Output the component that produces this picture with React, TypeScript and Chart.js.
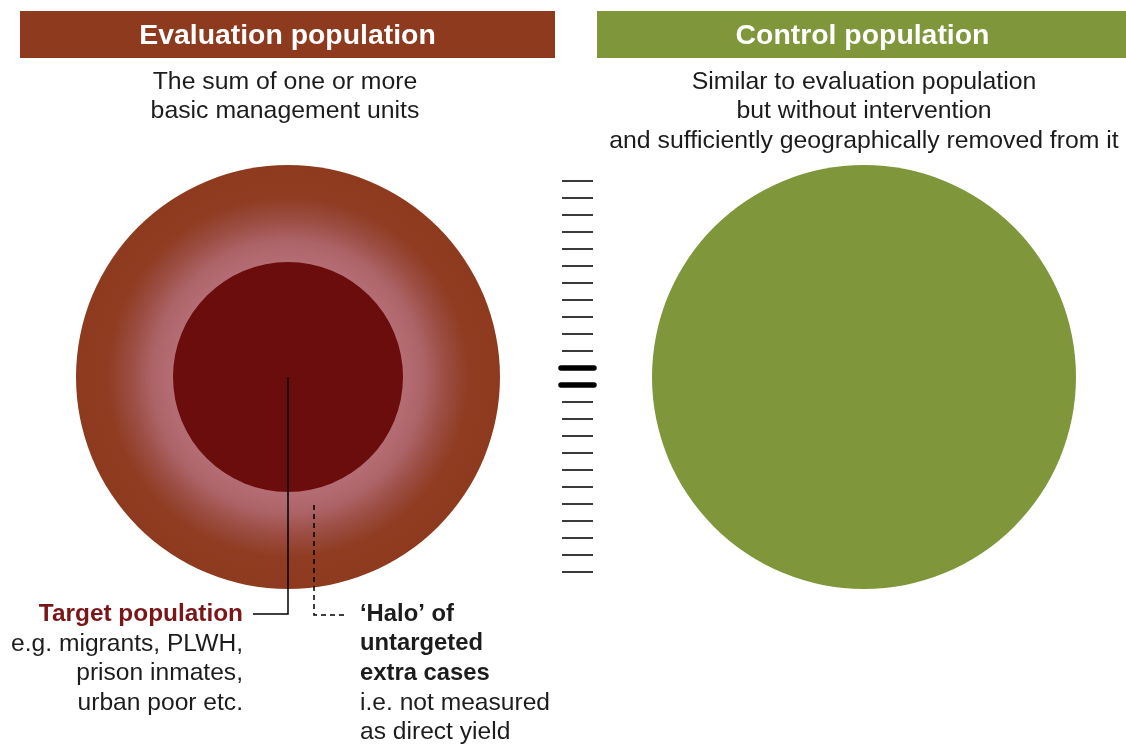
import React, { useEffect, useRef } from "react";
import { Chart, registerables } from "chart.js";

Chart.register(...registerables);

// ---- Data ----
const circleNames = ["Evaluation population", "Target population", "Control population"];
const circleCenterX = [288, 288, 864];
const circleCenterY = [377, 377, 377];
const circleRadius = [212, 115, 212];

const headerTitles = ["Evaluation population", "Control population"];
const headerLeft = [20, 597];
const headerRight = [555, 1126];
const headerTop = [11, 11];
const headerBottom = [58, 58];

const leftSubtitle = ["The sum of one or more", "basic management units"];
const rightSubtitle = [
  "Similar to evaluation population",
  "but without intervention",
  "and sufficiently geographically removed from it",
];
const targetLabel = ["Target population"];
const targetDetail = ["e.g. migrants, PLWH,", "prison inmates,", "urban poor etc."];
const haloLabel = ["\u2018Halo\u2019 of", "untargeted", "extra cases"];
const haloDetail = ["i.e. not measured", "as direct yield"];

// equals-sign rungs
const rungY = [181, 198, 215, 232, 249, 266, 283, 300, 317, 334, 351, 368, 385, 402, 419, 436, 453, 470, 487, 504, 521, 538, 555, 572];
const rungBold = [0, 0, 0, 0, 0, 0, 0, 0, 0, 0, 0, 1, 1, 0, 0, 0, 0, 0, 0, 0, 0, 0, 0, 0];

// connector lines
const targetLineX = [288, 288, 253];
const targetLineY = [377, 614, 614];
const haloLineX = [314, 314, 346];
const haloLineY = [505, 615, 615];

// ---- Styles ----
const FONT = "'Liberation Sans', Arial, Helvetica, sans-serif";
const COL_EVAL = "#8e3a1e";
const COL_TARGET = "#6b0d0c";
const COL_CONTROL = "#7f963b";
const COL_TEXT = "#1c1c1c";
const COL_TARGET_TEXT = "#7a1618";

const shapesPlugin = {
  id: "shapes",
  beforeDatasetsDraw(chart: any) {
    const { ctx, scales } = chart;
    const sx = scales.x;
    const sy = scales.y;
    const px = (v: number) => sx.getPixelForValue(v);
    const py = (v: number) => sy.getPixelForValue(v);
    ctx.save();
    // header boxes
    headerTitles.forEach((t, i) => {
      ctx.fillStyle = i === 0 ? COL_EVAL : COL_CONTROL;
      const x0 = px(headerLeft[i]);
      const x1 = px(headerRight[i]);
      const y0 = py(headerTop[i]);
      const y1 = py(headerBottom[i]);
      ctx.fillRect(x0, y0, x1 - x0, y1 - y0);
    });
    // circles
    circleNames.forEach((name, i) => {
      const cx = px(circleCenterX[i]);
      const cy = py(circleCenterY[i]);
      const r = Math.abs(px(circleCenterX[i] + circleRadius[i]) - cx);
      ctx.beginPath();
      ctx.arc(cx, cy, r, 0, Math.PI * 2);
      if (name === "Evaluation population") {
        const g = ctx.createRadialGradient(cx, cy, 0, cx, cy, r);
        g.addColorStop(0, "#b56d75");
        g.addColorStop(0.54, "#b56d75");
        g.addColorStop(0.64, "#ad6468");
        g.addColorStop(0.74, "#9c4e44");
        g.addColorStop(0.85, "#8f3c22");
        g.addColorStop(1, "#8d3a1e");
        ctx.fillStyle = g;
      } else if (name === "Target population") {
        ctx.fillStyle = COL_TARGET;
      } else {
        ctx.fillStyle = COL_CONTROL;
      }
      ctx.fill();
    });
    ctx.restore();
  },
  afterDatasetsDraw(chart: any) {
    const { ctx, scales } = chart;
    const px = (v: number) => scales.x.getPixelForValue(v);
    const py = (v: number) => scales.y.getPixelForValue(v);
    ctx.save();
    ctx.textBaseline = "middle";
    // header titles
    ctx.fillStyle = "#ffffff";
    ctx.font = `bold 28.4px ${FONT}`;
    ctx.textAlign = "center";
    headerTitles.forEach((t, i) => {
      ctx.fillText(t, px((headerLeft[i] + headerRight[i]) / 2 + (i === 0 ? 0 : 1)), py(36));
    });
    // subtitles
    ctx.fillStyle = COL_TEXT;
    ctx.font = `24.8px ${FONT}`;
    leftSubtitle.forEach((t, i) => ctx.fillText(t, px(285), py(82 + i * 29)));
    rightSubtitle.forEach((t, i) => ctx.fillText(t, px(864), py(82 + i * 29.5)));
    // target text
    ctx.textAlign = "right";
    ctx.font = `bold 24.4px ${FONT}`;
    ctx.fillStyle = COL_TARGET_TEXT;
    targetLabel.forEach((t) => ctx.fillText(t, px(243), py(614)));
    ctx.font = `24.6px ${FONT}`;
    ctx.fillStyle = COL_TEXT;
    targetDetail.forEach((t, i) => ctx.fillText(t, px(243), py(644 + i * 29.5)));
    // halo text
    ctx.textAlign = "left";
    ctx.font = `bold 23.8px ${FONT}`;
    haloLabel.forEach((t, i) => ctx.fillText(t, px(360), py(614 + i * 29.7)));
    ctx.font = `24.6px ${FONT}`;
    haloDetail.forEach((t, i) => ctx.fillText(t, px(360), py(703 + i * 29.5)));
    ctx.restore();
  },
};

export default function App() {
  const ref = useRef<HTMLCanvasElement | null>(null);
  useEffect(() => {
    if (!ref.current) return;
    const datasets: any[] = [];
    rungY.forEach((y, i) => {
      const bold = rungBold[i] === 1;
      datasets.push({
        data: bold ? [{ x: 561, y }, { x: 594, y }] : [{ x: 562, y }, { x: 593, y }],
        borderColor: bold ? "#000000" : "#3a3a3a",
        borderWidth: bold ? 5.5 : 2,
        borderCapStyle: bold ? "round" : "butt",
        pointRadius: 0,
        clip: false,
      });
    });
    datasets.push({
      data: targetLineX.map((x, i) => ({ x, y: targetLineY[i] })),
      borderColor: "#000000",
      borderWidth: 1.5,
      pointRadius: 0,
      clip: false,
    });
    datasets.push({
      data: haloLineX.map((x, i) => ({ x, y: haloLineY[i] })),
      borderColor: "#000000",
      borderWidth: 1.5,
      borderDash: [5, 4],
      pointRadius: 0,
      clip: false,
    });
    const chart = new Chart(ref.current, {
      type: "scatter",
      data: { datasets },
      options: {
        animation: false,
        responsive: false,
        devicePixelRatio: 1,
        showLine: true,
        layout: { padding: 0 },
        events: [],
        scales: {
          x: { type: "linear", min: 0, max: 1126, display: false },
          y: { type: "linear", min: 0, max: 744, reverse: true, display: false },
        },
        plugins: { legend: { display: false }, tooltip: { enabled: false } },
      } as any,
      plugins: [shapesPlugin],
    });
    return () => chart.destroy();
  }, []);
  return (
    <div style={{ position: "absolute", left: 0, top: 0, width: 1126, height: 744, background: "#fff" }}>
      <canvas ref={ref} width={1126} height={744} style={{ display: "block" }} />
    </div>
  );
}
